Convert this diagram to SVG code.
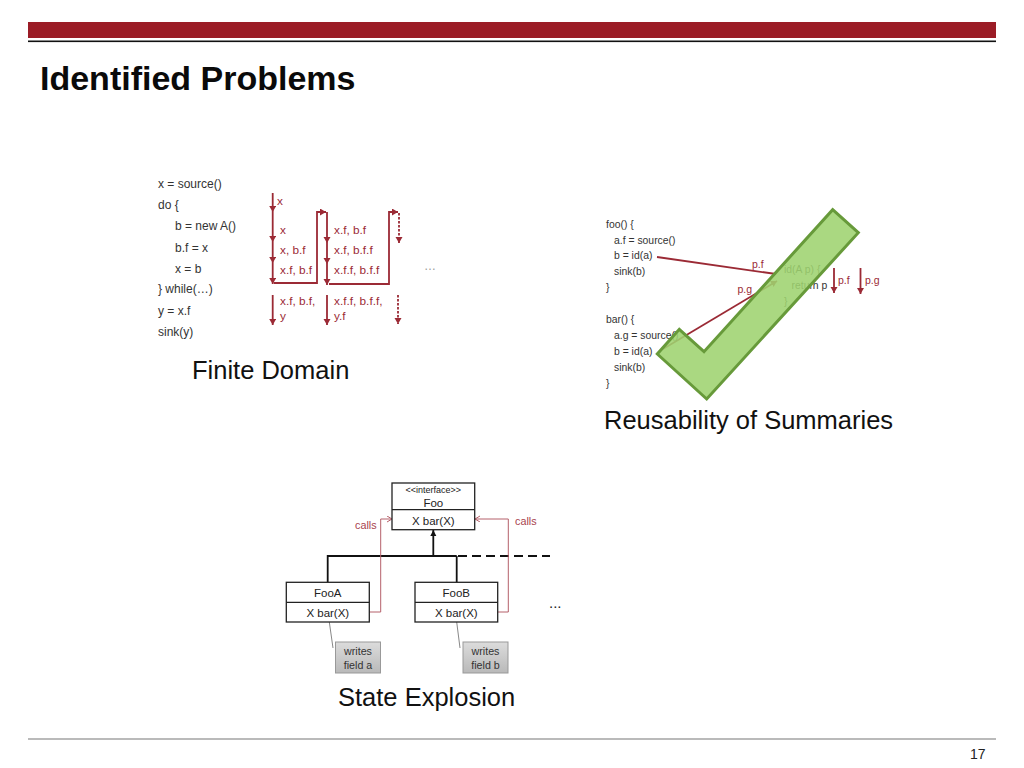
<svg xmlns="http://www.w3.org/2000/svg" width="1024" height="768" viewBox="0 0 1024 768">
<style>
text{font-family:"Liberation Sans",Arial,sans-serif;fill:#333}
.code{font-size:12px}
.code2{font-size:10.4px}
.r{fill:#9b2a35;font-size:11.8px}
.r2{fill:#9b2a35;font-size:10.5px}
.cap{font-size:25.5px;fill:#111}
.uml{font-size:11.5px;fill:#222}
.box{fill:#fff;stroke:#222;stroke-width:1.3}
.red{fill:none;stroke:#9b2a35;stroke-width:1.8}
.thin{fill:none;stroke:#b5606a;stroke-width:1}
.blk{fill:none;stroke:#111;stroke-width:1.8}
.m{text-anchor:middle}
</style>
<defs>
<marker id="ah" markerWidth="8" markerHeight="8" refX="6" refY="3.5" orient="auto" markerUnits="userSpaceOnUse"><path d="M0 0L6 3.5L0 7Z" fill="#9b2a35"/></marker>
<marker id="ao" markerWidth="8" markerHeight="8" refX="5" refY="3" orient="auto" markerUnits="userSpaceOnUse"><path d="M0 0L5 3L0 6" fill="none" stroke="#b5606a"/></marker>
<marker id="ab" markerWidth="8" markerHeight="8" refX="6" refY="3" orient="auto" markerUnits="userSpaceOnUse"><path d="M0 0L6 3L0 6Z" fill="#111"/></marker>
<linearGradient id="note" x1="0" y1="0" x2="0" y2="1"><stop offset="0" stop-color="#dcdcdc"/><stop offset="1" stop-color="#b9b9b9"/></linearGradient>
</defs>

<g id="header">
<rect x="28" y="22" width="968" height="16" fill="#9b1c26"/>
<rect x="28" y="40.5" width="968" height="1.6" fill="#111"/>
<text x="40" y="90" font-size="34" font-weight="bold" style="fill:#0a0a0a">Identified Problems</text>
</g>

<g id="finite-code" class="code">
<text x="158" y="188">x = source()</text>
<text x="158" y="209">do {</text>
<text x="175" y="230">b = new A()</text>
<text x="175" y="252">b.f = x</text>
<text x="175" y="273">x = b</text>
<text x="158" y="293">} while(…)</text>
<text x="158" y="315">y = x.f</text>
<text x="158" y="336">sink(y)</text>
</g>

<g id="connectors">
<g class="connectors-finite">
<path class="red" marker-end="url(#ah)" d="M272.7 193V212"/>
<path class="red" marker-end="url(#ah)" d="M272.7 212V242"/>
<path class="red" marker-end="url(#ah)" d="M272.7 242V263"/>
<path class="red" marker-end="url(#ah)" d="M272.7 263V284"/>
<path class="red" marker-end="url(#ah)" d="M274 283H317V212H326"/>
<path class="red" marker-end="url(#ah)" d="M327 212V243"/>
<path class="red" marker-end="url(#ah)" d="M327 243V264"/>
<path class="red" marker-end="url(#ah)" d="M327 264V285"/>
<path class="red" marker-end="url(#ah)" d="M329 284H389V212H398"/>
<path class="red" stroke-dasharray="2.5 1.5" marker-end="url(#ah)" d="M399 213V243"/>
<path class="red" marker-end="url(#ah)" d="M272.7 295V325"/>
<path class="red" marker-end="url(#ah)" d="M327 295V325"/>
<path class="red" stroke-dasharray="2.5 1.5" marker-end="url(#ah)" d="M398 295V324"/>
</g>
<g class="connectors-summaries">
<path class="red" stroke-width="1.4" d="M657 257L776 274"/>
<path class="red" stroke-width="1.4" marker-end="url(#ah)" d="M663 349L777 281"/>
<path class="red" marker-end="url(#ah)" d="M834 268V293"/>
<path class="red" marker-end="url(#ah)" d="M860.500 268V294"/>
</g>
<g class="connectors-uml">
<path class="blk" d="M327.700 582V556H456.700"/>
<path class="blk" d="M456.700 556V582"/>
<path class="blk" marker-end="url(#ab)" d="M433.300 556V530"/>
<path class="blk" stroke-dasharray="9 5" d="M458 556H550"/>
<path class="thin" marker-end="url(#ao)" d="M369.300 612H380.700V519H392"/>
<path class="thin" marker-end="url(#ao)" d="M497.700 612H508.300V519H475"/>
<path fill="none" stroke="#888" d="M329.300 622L333 648"/>
<path fill="none" stroke="#888" d="M456.700 622L460 648"/>
</g>
</g>

<g id="finite-labels">
<text class="r" x="277" y="205">x</text>
<text class="r" x="280" y="234">x</text>
<text class="r" x="280" y="254">x, b.f</text>
<text class="r" x="280" y="274">x.f, b.f</text>
<text class="r" x="334" y="234">x.f, b.f</text>
<text class="r" x="334" y="254">x.f, b.f.f</text>
<text class="r" x="334" y="274">x.f.f, b.f.f</text>
<text class="r" x="280" y="305">x.f, b.f,</text>
<text class="r" x="280" y="320">y</text>
<text class="r" x="334" y="305">x.f.f, b.f.f,</text>
<text class="r" x="334" y="320">y.f</text>
<text x="424" y="270" font-size="12" style="fill:#999">…</text>
</g>
<g id="finite-caption"><text class="cap" x="192" y="379">Finite Domain</text></g>

<g id="summaries-code" class="code2">
<text x="606" y="228">foo() {</text>
<text x="614" y="244">a.f = source()</text>
<text x="614" y="259">b = id(a)</text>
<text x="614" y="275">sink(b)</text>
<text x="606" y="291">}</text>
<text x="606" y="323">bar() {</text>
<text x="614" y="339">a.g = source()</text>
<text x="614" y="355">b = id(a)</text>
<text x="614" y="371">sink(b)</text>
<text x="606" y="387">}</text>
<text x="784" y="273">id(A p) {</text>
<text x="791.500" y="289">return p</text>
<text x="784" y="305">}</text>
</g>
<g id="summaries-labels">
<text class="r2" x="752" y="268">p.f</text>
<text class="r2" x="737.500" y="293">p.g</text>
<text class="r2" x="838" y="284">p.f</text>
<text class="r2" x="865" y="284">p.g</text>
</g>
<g id="checkmark">
<path d="M832.700 209.700L858.300 232.700L706.700 399L657.300 354L679.300 329.300L704 351.700Z" fill="#9ed36f" fill-opacity=".88" stroke="#679a3a" stroke-width="3" stroke-linejoin="miter"/>
</g>
<g id="summaries-caption"><text class="cap" x="604" y="429">Reusability of Summaries</text></g>

<g id="foo">
<rect class="box" x="392" y="483" width="82.700" height="46.700"/>
<path class="box" d="M392 509.700H474.700"/>
<text class="m" x="433.300" y="493" font-size="9" style="fill:#222">&lt;&lt;interface&gt;&gt;</text>
<text class="uml m" x="433.300" y="507">Foo</text>
<text class="uml m" x="433.300" y="525">X bar(X)</text>
</g>
<g id="fooa">
<rect class="box" x="286.300" y="582.300" width="83" height="39.700"/>
<path class="box" d="M286.300 602.300H369.300"/>
<text class="uml m" x="327.800" y="597">FooA</text>
<text class="uml m" x="327.800" y="617">X bar(X)</text>
</g>
<g id="foob">
<rect class="box" x="415" y="582.300" width="82.700" height="39.700"/>
<path class="box" d="M415 602.300H497.700"/>
<text class="uml m" x="456.300" y="597">FooB</text>
<text class="uml m" x="456.300" y="617">X bar(X)</text>
</g>
<g id="note-a">
<rect x="335.500" y="642" width="45" height="31" fill="url(#note)" stroke="#999"/>
<text class="m" x="358" y="655" font-size="10.700">writes</text>
<text class="m" x="358" y="669" font-size="10.700">field a</text>
</g>
<g id="note-b">
<rect x="463" y="642" width="45" height="31" fill="url(#note)" stroke="#999"/>
<text class="m" x="485.500" y="655" font-size="10.700">writes</text>
<text class="m" x="485.500" y="669" font-size="10.700">field b</text>
</g>
<g id="uml-labels">
<text x="355" y="529" font-size="10.800" style="fill:#a8434e">calls</text>
<text x="515" y="525" font-size="10.800" style="fill:#a8434e">calls</text>
<text x="549" y="608" font-size="15" style="fill:#222">...</text>
</g>
<g id="uml-caption"><text class="cap" x="338" y="706">State Explosion</text></g>

<g id="footer">
<rect x="28" y="738.500" width="968" height="1" fill="#777"/>
<text x="970" y="759" font-size="14" style="fill:#222">17</text>
</g>
</svg>
